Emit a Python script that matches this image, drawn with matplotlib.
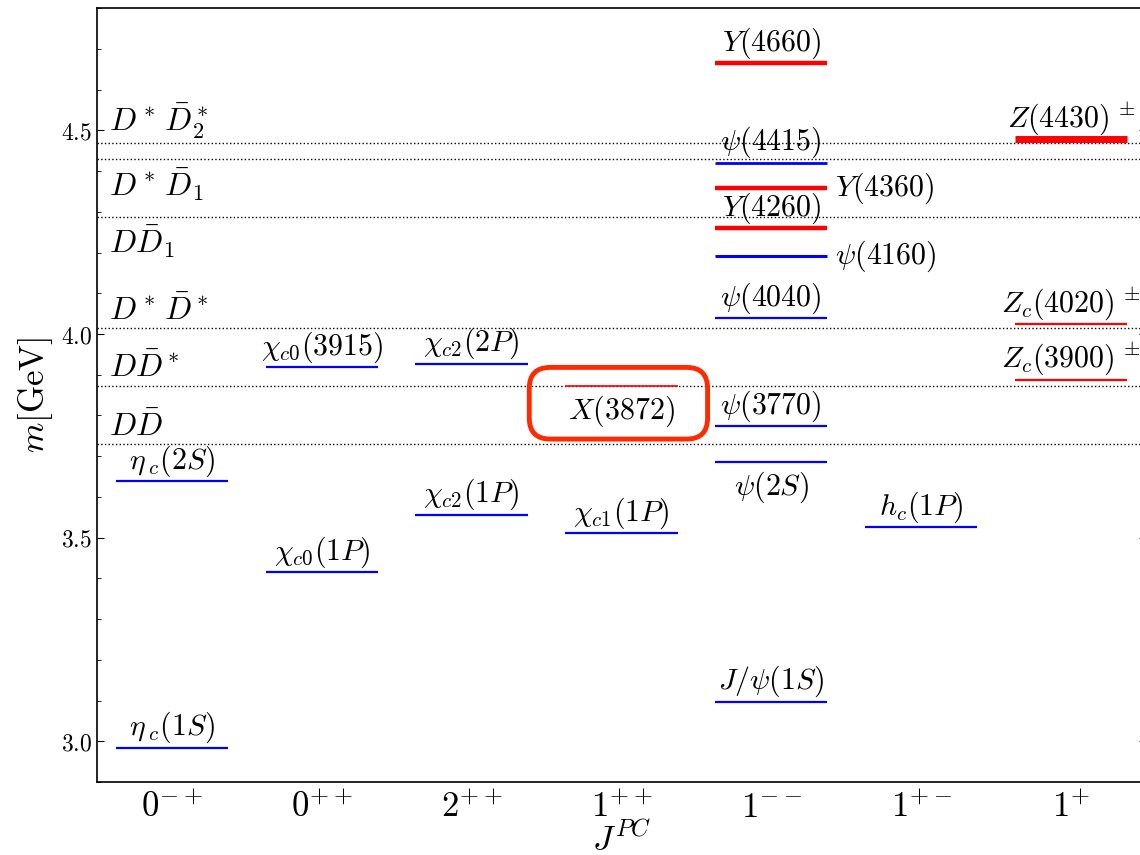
import matplotlib
matplotlib.use('Agg')
import matplotlib.pyplot as plt
from matplotlib.patches import FancyBboxPatch
from matplotlib.ticker import MultipleLocator, FormatStrFormatter

plt.rcParams['mathtext.fontset'] = 'cm'
plt.rcParams['font.family'] = ['DejaVu Serif']

# ---------------- data ----------------
jpc_labels = [r'$0^{-+}$', r'$0^{++}$', r'$2^{++}$', r'$1^{++}$',
              r'$1^{--}$', r'$1^{+-}$', r'$1^{+}$']

state_names = [r'$\eta_{\;c}(1S)$', r'$\eta_{\;c}(2S)$',
               r'$\chi_{c0}(1P)$', r'$\chi_{c0}(3915)$',
               r'$\chi_{c2}(1P)$', r'$\chi_{c2}(2P)$',
               r'$\chi_{c1}(1P)$', r'$X(3872)$',
               r'$J/\psi(1S)$', r'$\psi(2S)$', r'$\psi(3770)$', r'$\psi(4040)$',
               r'$\psi(4160)$', r'$Y(4260)$', r'$Y(4360)$', r'$\psi(4415)$',
               r'$Y(4660)$',
               r'$h_c(1P)$',
               r'$Z_c(3900)^{\,\pm}$', r'$Z_c(4020)^{\,\pm}$', r'$Z(4430)^{\,\pm}$']
state_jpc = [0, 0, 1, 1, 2, 2, 3, 3, 4, 4, 4, 4, 4, 4, 4, 4, 4, 5, 6, 6, 6]
state_mass = [2.984, 3.639, 3.415, 3.918, 3.556, 3.927, 3.511, 3.872,
              3.097, 3.686, 3.773, 4.039, 4.191, 4.260, 4.358, 4.421, 4.665,
              3.525, 3.888, 4.024, 4.478]
state_color = ['blue', 'blue', 'blue', 'blue', 'blue', 'blue', 'blue', 'red',
               'blue', 'blue', 'blue', 'blue', 'blue', 'red', 'red', 'blue', 'red',
               'blue', 'red', 'red', 'red']
state_lw = [1.6, 1.6, 1.6, 1.6, 1.6, 1.6, 1.6, 1.2,
            1.6, 1.6, 1.6, 1.6, 2.2, 3.2, 3.2, 2.0, 3.2,
            1.6, 1.6, 1.6, 5.0]
state_label_pos = ['above', 'above', 'above', 'above', 'above', 'above',
                   'above', 'below', 'above', 'below', 'above', 'above',
                   'right', 'above', 'right', 'above', 'above',
                   'above', 'above', 'above', 'above']

threshold_names = [r'$D\bar{D}$', r'$D\bar{D}^*$', r'$D^*\,\bar{D}^*$',
                   r'$D\bar{D}_1$', r'$D^*\,\bar{D}_1$', r'$D^*\,\bar{D}_2^*$']
threshold_mass = [3.730, 3.872, 4.014, 4.287, 4.429, 4.469]
threshold_label_offset = [0.019, 0.022, 0.021, -0.088, -0.089, 0.031]

# ---------------- figure ----------------
fig = plt.figure(figsize=(11.4, 8.55), dpi=100)
ax = fig.add_axes([0.0851, 0.0854, 0.920, 0.905])
ax.set_xlim(-0.5, 6.5)
ax.set_ylim(2.9, 4.8)

half = 0.375
for name, j, m, c, lw, pos in zip(state_names, state_jpc, state_mass,
                                  state_color, state_lw, state_label_pos):
    ax.hlines(m, j - half, j + half, colors=c, linewidth=lw, zorder=3)
    if pos == 'above':
        ax.text(j, m + 0.006, name, ha='center', va='bottom', fontsize=21.5, zorder=4)
    elif pos == 'below':
        ax.text(j, m - 0.018, name, ha='center', va='top', fontsize=21.5, zorder=4)
    else:
        ax.text(j + half + 0.05, m, name, ha='left', va='center', fontsize=21.5, zorder=4)

for name, m, off in zip(threshold_names, threshold_mass, threshold_label_offset):
    ax.axhline(m, color='black', linestyle=':', linewidth=1.0, zorder=2)
    ax.text(-0.42, m + off, name, ha='left', va='baseline', fontsize=23)

# rounded highlight box around X(3872)
ax_w_px = 0.920 * 1140
ax_h_px = 0.905 * 855
px_per_x = ax_w_px / 7.0
px_per_y = ax_h_px / 1.9
aspect = px_per_x / px_per_y
x_idx = state_names.index(r'$X(3872)$')
xc = state_jpc[x_idx] - 0.02
box = FancyBboxPatch((xc - 0.595, 3.742), 1.19, 0.176,
                     boxstyle='round,pad=0,rounding_size=0.14',
                     mutation_aspect=aspect,
                     fill=False, edgecolor='#ff2a00', linewidth=3.5, zorder=5)
ax.add_patch(box)

# axes styling
ax.set_xticks(range(len(jpc_labels)))
ax.set_xticklabels(jpc_labels, fontsize=25)
ax.tick_params(axis='x', length=0, pad=6)
ax.yaxis.set_major_locator(MultipleLocator(0.5))
ax.yaxis.set_minor_locator(MultipleLocator(0.1))
ax.yaxis.set_major_formatter(FormatStrFormatter(r'$%.1f$'))
ax.tick_params(axis='y', which='both', direction='in', left=True, right=True, labelsize=17)
ax.tick_params(axis='y', which='major', length=5)
ax.tick_params(axis='y', which='minor', length=3)
for s in ax.spines.values():
    s.set_linewidth(1.2)

ax.set_ylabel(r'$m[\mathrm{GeV}]$', fontsize=25, labelpad=4)
ax.set_xlabel(r'$J^{PC}$', fontsize=25, labelpad=-2)

fig.savefig('out.png', dpi=100)
